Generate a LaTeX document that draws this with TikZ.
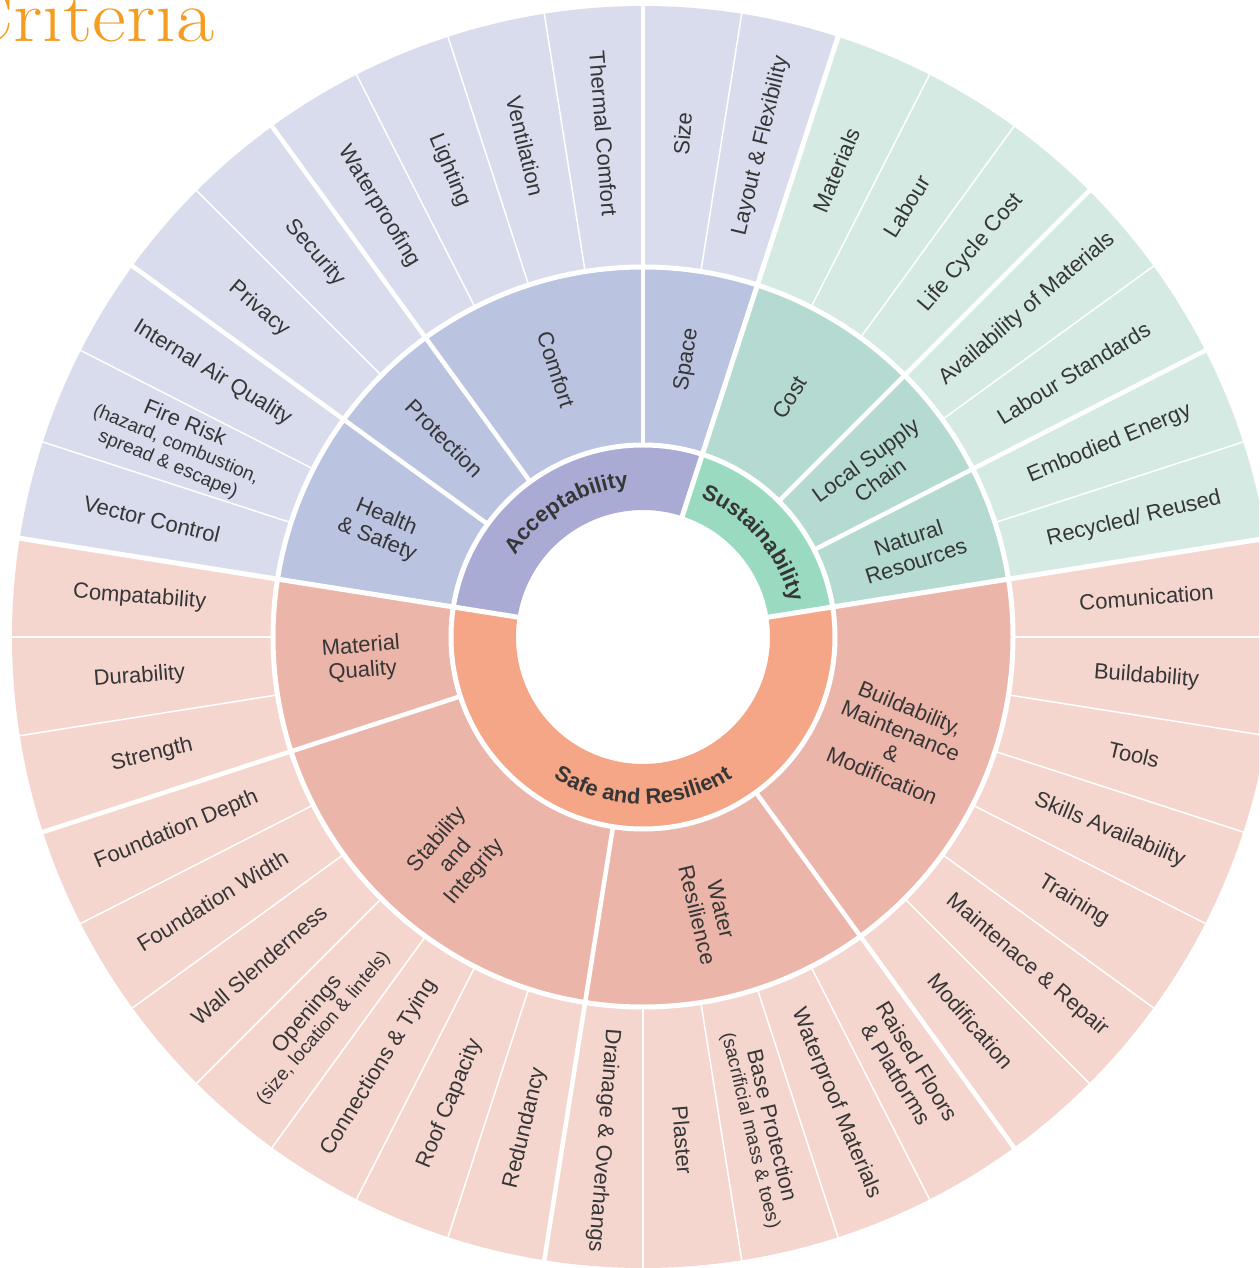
\documentclass[tikz,border=0pt]{standalone}
\usepackage{fontspec}
\newfontfamily\lblfont{Liberation Sans}
\usetikzlibrary{decorations.text}

% ring colours: inner / middle / outer
\definecolor{accA}{HTML}{A9ABD4}
\definecolor{accB}{HTML}{BAC3E0}
\definecolor{accC}{HTML}{D8DCED}
\definecolor{susA}{HTML}{9ADAC0}
\definecolor{susB}{HTML}{B4DAD1}
\definecolor{susC}{HTML}{D4EAE3}
\definecolor{safA}{HTML}{F4A686}
\definecolor{safB}{HTML}{ECB5A9}
\definecolor{safC}{HTML}{F5D6CF}
\definecolor{ink}{HTML}{363636}
\definecolor{titleor}{HTML}{F59D22}

\newcommand\catfont{\lblfont\bfseries\fontsize{22}{24}\selectfont\color{ink}}
\newcommand\notefont{\fontsize{19}{20}\selectfont}

% annular sector: colour, start angle, end angle, inner radius, outer radius
\newcommand\ringsector[5]{%
  \fill[#1] (#2:#4) arc[start angle=#2,end angle=#3,radius=#4]
    -- (#3:#5) arc[start angle=#3,end angle=#2,radius=#5] -- cycle;}

\tikzset{
  lbl/.style={font=\lblfont\fontsize{22}{24.5}\selectfont, text=ink,
    align=center, inner sep=0pt},
  sepbig/.style={draw=white, line width=5pt},
  sepmid/.style={draw=white, line width=4.5pt},
  septhin/.style={draw=white, line width=1.5pt},
}

\begin{document}
\begin{tikzpicture}[x=1pt,y=1pt]
\useasboundingbox (-643,-631) rectangle (616,637);
\clip (-643,-631) rectangle (616,637);

% ---- title
\node[anchor=base west, text=titleor, font=\fontsize{74}{80}\selectfont,
  inner sep=0pt, xscale=1.12] (title) at (-685,595) {Criteria};

% ---- inner ring (categories)
\ringsector{safA}{171}{369}{127}{192}
\ringsector{accA}{72}{171}{127}{192}
\ringsector{susA}{9}{72}{127}{192}
% ---- middle ring (groups)
\ringsector{safB}{171}{369}{192}{370}
\ringsector{accB}{72}{171}{192}{370}
\ringsector{susB}{9}{72}{192}{370}
% ---- outer ring (criteria)
\ringsector{safC}{171}{369}{370}{631}
\ringsector{accC}{72}{171}{370}{631}
\ringsector{susC}{9}{72}{370}{631}

% ---- separators
\foreach \a in {0,...,39}{\path[septhin] ({9+9*\a}:370) -- ({9+9*\a}:650);}
\foreach \a in {27,45,90,126,144,198,261,306}{\path[sepmid] (\a:192) -- (\a:650);}
\foreach \a in {9,72,171}{\path[sepbig] (\a:125) -- (\a:650);}
\path[sepbig] (0,0) circle[radius=192];
\path[sepbig] (0,0) circle[radius=370];

% ---- category labels along the inner ring
\path[decorate, decoration={text along path, text align=center,
  text={|\catfont|Acceptability}}]
  (171:151) arc[start angle=171,end angle=72,radius=151];
\path[decorate, decoration={text along path, text align=center,
  text={|\catfont|Sustainability}}]
  (72:151) arc[start angle=72,end angle=9,radius=151];
\path[decorate, decoration={text along path, text align=center,
  text={|\catfont|Safe and Resilient}}]
  (200:167) arc[start angle=200,end angle=340,radius=167];

% ---- group labels
\node[lbl, rotate=18]    (natres)  at (18:283)    {Natural\\Resources};
\node[lbl, rotate=36]    (supply)  at (36:284)    {Local Supply\\Chain};
\node[lbl, rotate=58.5]  (cost)    at (58.5:281)  {Cost};
\node[lbl, rotate=81]    (space)   at (81:281)    {Space};
\node[lbl, rotate=-72]   (comfort) at (108:281)   {Comfort};
\node[lbl, rotate=-45]   (protect) at (135:281)   {Protection};
\node[lbl, rotate=-22.5] (health)  at (157.5:283) {Health\\\& Safety};
\node[lbl, rotate=4.5]   (matq)    at (184.5:282) {Material\\Quality};
\node[lbl, rotate=49.5]  (stab)    at (229.5:288) {Stability\\and\\Integrity};
\node[lbl, rotate=-76.5] (water)   at (283.5:283) {Water\\Resilience};
\node[lbl, rotate=-22.5] (build)   at (337.5:274) {Buildability,\\Maintenance\\\&\\Modification};

% ---- criteria labels: sustainability
\node[lbl, rotate=13.5] (recyc)   at (13.5:505) {Recycled/ Reused};
\node[lbl, rotate=22.5] (embod)   at (22.5:505) {Embodied Energy};
\node[lbl, rotate=31.5] (labstd)  at (31.5:505) {Labour Standards};
\node[lbl, rotate=40.5] (avail)   at (40.5:505) {Availability of Materials};
\node[lbl, rotate=49.5] (lcc)     at (49.5:505) {Life Cycle Cost};
\node[lbl, rotate=58.5] (labour)  at (58.5:505) {Labour};
\node[lbl, rotate=67.5] (mats)    at (67.5:505) {Materials};
% ---- criteria labels: acceptability
\node[lbl, rotate=76.5]  (layout)  at (76.5:505)  {Layout \& Flexibility};
\node[lbl, rotate=85.5]  (size)    at (85.5:505)  {Size};
\node[lbl, rotate=-85.5] (thermal) at (94.5:505)  {Thermal Comfort};
\node[lbl, rotate=-76.5] (vent)    at (103.5:505) {Ventilation};
\node[lbl, rotate=-67.5] (light)   at (112.5:505) {Lighting};
\node[lbl, rotate=-58.5] (wproof)  at (121.5:505) {Waterproofing};
\node[lbl, rotate=-49.5] (secur)   at (130.5:505) {Security};
\node[lbl, rotate=-40.5] (priv)    at (139.5:505) {Privacy};
\node[lbl, rotate=-31.5] (iaq)     at (148.5:505) {Internal Air Quality};
\node[lbl, rotate=-22.5] (fire)    at (157.5:505)
  {Fire Risk\\[-3pt]{\notefont(hazard, combustion,}\\[-3pt]{\notefont spread \& escape)}};
\node[lbl, rotate=-13.5] (vector)  at (166.5:505) {Vector Control};
% ---- criteria labels: safe and resilient
\node[lbl, rotate=-4.5]  (compat)  at (175.5:505) {Compatability};
\node[lbl, rotate=4.5]   (durab)   at (184.5:505) {Durability};
\node[lbl, rotate=13.5]  (strength) at (193.5:505) {Strength};
\node[lbl, rotate=22.5]  (fdepth)  at (202.5:505) {Foundation Depth};
\node[lbl, rotate=31.5]  (fwidth)  at (211.5:505) {Foundation Width};
\node[lbl, rotate=40.5]  (wall)    at (220.5:505) {Wall Slenderness};
\node[lbl, rotate=49.5]  (open)    at (229.5:505)
  {Openings\\[-4pt]{\notefont(size, location \& lintels)}};
\node[lbl, rotate=58.5]  (conn)    at (238.5:505) {Connections \& Tying};
\node[lbl, rotate=67.5]  (roof)    at (247.5:505) {Roof Capacity};
\node[lbl, rotate=76.5]  (redund)  at (256.5:505) {Redundancy};
\node[lbl, rotate=-94.5] (drain)   at (265.5:505) {Drainage \& Overhangs};
\node[lbl, rotate=-85.5] (plaster) at (274.5:505) {Plaster};
\node[lbl, rotate=-76.5] (base)    at (283.5:505)
  {Base Protection\\[-4pt]{\notefont(sacrificial mass \& toes)}};
\node[lbl, rotate=-67.5] (wpmat)   at (292.5:505) {Waterproof Materials};
\node[lbl, rotate=-58.5] (raised)  at (301.5:505) {Raised Floors\\\& Platforms};
\node[lbl, rotate=-49.5] (modif)   at (310.5:505) {Modification};
\node[lbl, rotate=-40.5] (maint)   at (319.5:505) {Maintenace \& Repair};
\node[lbl, rotate=-31.5] (train)   at (328.5:505) {Training};
\node[lbl, rotate=-22.5] (skills)  at (337.5:505) {Skills Availability};
\node[lbl, rotate=-13.5] (tools)   at (346.5:505) {Tools};
\node[lbl, rotate=-4.5]  (buildab) at (355.5:505) {Buildability};
\node[lbl, rotate=4.5]   (comm)    at (4.5:505)   {Comunication};
\end{tikzpicture}
\end{document}
